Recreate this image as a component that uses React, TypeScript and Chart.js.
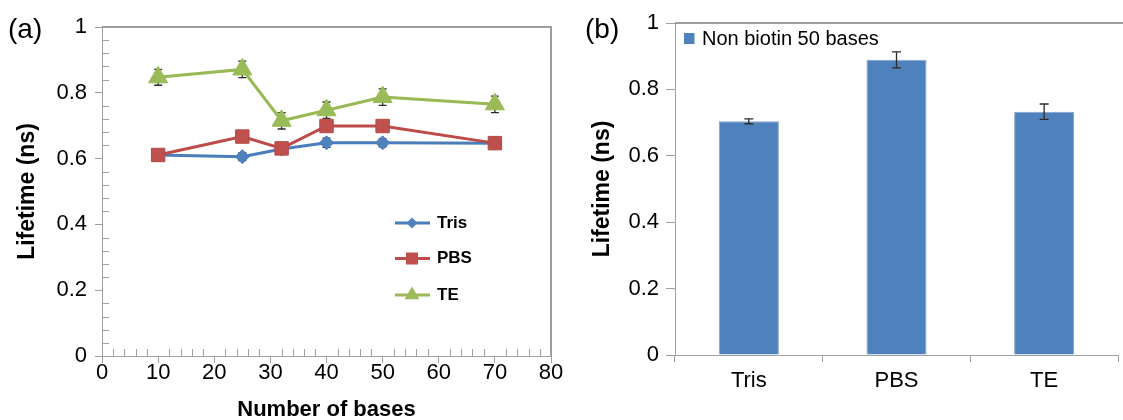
import React, { useEffect, useRef } from 'react';
import { Chart, registerables } from 'chart.js';

Chart.register(...registerables);

const FONT = "'Liberation Sans', Arial, Helvetica, sans-serif";

// ---- Data: panel (a) ----
const baseCounts = [10, 25, 32, 40, 50, 70];
const trisValues = [0.611, 0.606, 0.629, 0.648, 0.648, 0.647];
const trisErrors = [0.014, 0.012, 0.014, 0.014, 0.012, 0.014];
const pbsValues = [0.611, 0.667, 0.631, 0.699, 0.699, 0.647];
const pbsErrors = [0.015, 0.012, 0.012, 0.016, 0.012, 0.014];
const teValues = [0.847, 0.871, 0.715, 0.747, 0.787, 0.765];
const teErrors = [0.024, 0.025, 0.025, 0.025, 0.025, 0.025];
const baseTicks = [0, 10, 20, 30, 40, 50, 60, 70, 80];
const lifetimeTicks = [0, 0.2, 0.4, 0.6, 0.8, 1];

// ---- Data: panel (b) ----
const bufferLabels = ['Tris', 'PBS', 'TE'];
const nonBiotinValues = [0.704, 0.889, 0.733];
const nonBiotinErrors = [0.0075, 0.024, 0.023];

const AXIS = '#a0a0a0';
const FRAME = '#7f7f7f';

function drawErrorBars(chart: any, errs: number[][], cap: number) {
  const ctx = chart.ctx;
  const ys = chart.scales.y;
  ctx.save();
  ctx.strokeStyle = '#2b2b2b';
  ctx.lineWidth = 1.3;
  chart.data.datasets.forEach((ds: any, di: number) => {
    const meta = chart.getDatasetMeta(di);
    const e = errs[di];
    if (!e) return;
    meta.data.forEach((pt: any, i: number) => {
      const v = ds.data[i];
      const val = typeof v === 'number' ? v : v.y;
      const x = pt.x;
      const y1 = ys.getPixelForValue(val + e[i]);
      const y2 = ys.getPixelForValue(val - e[i]);
      ctx.beginPath();
      ctx.moveTo(x, y1);
      ctx.lineTo(x, y2);
      ctx.moveTo(x - cap, y1);
      ctx.lineTo(x + cap, y1);
      ctx.moveTo(x - cap, y2);
      ctx.lineTo(x + cap, y2);
      ctx.stroke();
    });
  });
  ctx.restore();
}

function LineChart() {
  const ref = useRef<HTMLCanvasElement>(null);
  useEffect(() => {
    const canvas = ref.current!;
    const errs = [trisErrors, pbsErrors, teErrors];
    const plugin = {
      id: 'panelA',
      beforeDatasetsDraw(chart: any) {
        drawErrorBars(chart, errs, 4);
      },
      afterDraw(chart: any) {
        const ctx = chart.ctx;
        const { left, right, top, bottom } = chart.chartArea;
        const xs = chart.scales.x;
        const ys = chart.scales.y;
        ctx.save();
        // frame top & right
        ctx.strokeStyle = FRAME;
        ctx.lineWidth = 1.5;
        ctx.beginPath();
        ctx.moveTo(left, top);
        ctx.lineTo(right, top);
        ctx.lineTo(right, bottom);
        ctx.stroke();
        // minor ticks
        ctx.strokeStyle = AXIS;
        ctx.lineWidth = 1;
        ctx.beginPath();
        for (let k = 1; k < 25; k++) {
          if (k % 5 === 0) continue;
          const y = Math.round(ys.getPixelForValue(k * 0.04)) + 0.5;
          ctx.moveTo(left, y);
          ctx.lineTo(left + 7, y);
        }
        for (let k = 1; k < 40; k++) {
          if (k % 5 === 0) continue;
          const x = Math.round(xs.getPixelForValue(k * 2)) + 0.5;
          ctx.moveTo(x, bottom);
          ctx.lineTo(x, bottom - 7);
        }
        ctx.stroke();
        // legend
        const lx0 = 395, lx1 = 430, mx = 412;
        chart.data.datasets.forEach((ds: any, i: number) => {
          const y = [223, 258.5, 295][i];
          ctx.strokeStyle = ds.borderColor;
          ctx.lineWidth = 3;
          ctx.beginPath();
          ctx.moveTo(lx0, y);
          ctx.lineTo(lx1, y);
          ctx.stroke();
          ctx.fillStyle = ds.pointBackgroundColor;
          ctx.beginPath();
          if (ds.pointStyle === 'rectRot') {
            const r = 5.5;
            ctx.moveTo(mx, y - r);
            ctx.lineTo(mx + r, y);
            ctx.lineTo(mx, y + r);
            ctx.lineTo(mx - r, y);
          } else if (ds.pointStyle === 'rect') {
            ctx.rect(mx - 6, y - 6, 12, 12);
          } else {
            const r = 8.5;
            ctx.moveTo(mx, y - r);
            ctx.lineTo(mx + r * 0.866, y + r * 0.5);
            ctx.lineTo(mx - r * 0.866, y + r * 0.5);
          }
          ctx.closePath();
          ctx.fill();
          ctx.fillStyle = '#000';
          ctx.font = `bold 17px ${FONT}`;
          ctx.textAlign = 'left';
          ctx.textBaseline = 'middle';
          ctx.fillText(ds.label, 437, y);
        });
        // panel label
        ctx.fillStyle = '#000';
        ctx.font = `28px ${FONT}`;
        ctx.textAlign = 'left';
        ctx.textBaseline = 'middle';
        ctx.fillText('(a)', 8, 30);
        ctx.restore();
      },
    };
    const mk = (vals: number[]) => baseCounts.map((x, i) => ({ x, y: vals[i] }));
    const chart = new Chart(canvas, {
      type: 'line',
      data: {
        datasets: [
          {
            label: 'Tris', data: mk(trisValues), borderColor: '#4A7EBB', borderWidth: 3,
            pointStyle: 'rectRot', pointRadius: 7, pointBackgroundColor: '#4F81BD',
            pointBorderColor: '#4A7EBB', pointBorderWidth: 1, order: 3,
          },
          {
            label: 'PBS', data: mk(pbsValues), borderColor: '#BE4B48', borderWidth: 3,
            pointStyle: 'rect', pointRadius: 9.5, pointBackgroundColor: '#C0504D',
            pointBorderColor: '#B44A47', pointBorderWidth: 1, order: 2,
          },
          {
            label: 'TE', data: mk(teValues), borderColor: '#98B954', borderWidth: 3,
            pointStyle: 'triangle', pointRadius: 11, pointBackgroundColor: '#9BBB59',
            pointBorderColor: '#98B954', pointBorderWidth: 1, order: 1,
          },
        ] as any,
      },
      options: {
        animation: false,
        responsive: false,
        events: [],
        layout: { padding: { left: 0, top: 27, right: 24, bottom: 0 } },
        plugins: { legend: { display: false }, tooltip: { enabled: false } },
        scales: {
          x: {
            type: 'linear', min: 0, max: 80,
            afterBuildTicks: (s: any) => { s.ticks = baseTicks.map((v) => ({ value: v })); },
            afterFit: (s: any) => { s.height = 64; },
            ticks: {
              color: '#000', font: { family: FONT, size: 22, lineHeight: 1 }, padding: -1,
              maxRotation: 0, autoSkip: false, callback: (v: any) => String(v),
            },
            grid: { display: true, drawOnChartArea: false, drawTicks: true, tickLength: 7, color: AXIS },
            border: { display: true, color: AXIS, width: 1 },
            title: {
              display: true, text: 'Number of bases', color: '#000',
              font: { family: FONT, size: 22, weight: 'bold', lineHeight: 1 }, padding: { top: 0, bottom: -1 },
            },
          },
          y: {
            type: 'linear', min: 0, max: 1,
            afterBuildTicks: (s: any) => { s.ticks = lifetimeTicks.map((v) => ({ value: v })); },
            afterFit: (s: any) => { s.width = 102; },
            ticks: {
              color: '#000', font: { family: FONT, size: 22, lineHeight: 1 }, padding: 8,
              callback: (v: any) => String(v),
            },
            grid: { display: true, drawOnChartArea: false, drawTicks: true, tickLength: 7, color: AXIS },
            border: { display: true, color: AXIS, width: 1 },
            title: {
              display: true, text: 'Lifetime (ns)', color: '#000',
              font: { family: FONT, size: 23, weight: 'bold', lineHeight: 1 }, padding: { top: 16, bottom: 0 },
            },
          },
        },
      } as any,
      plugins: [plugin],
    });
    return () => chart.destroy();
  }, []);
  return <canvas ref={ref} width={575} height={420} style={{ position: 'absolute', left: 0, top: 0 }} />;
}

function BarChart() {
  const ref = useRef<HTMLCanvasElement>(null);
  useEffect(() => {
    const canvas = ref.current!;
    const plugin = {
      id: 'panelB',
      afterDatasetsDraw(chart: any) {
        drawErrorBars(chart, [nonBiotinErrors], 4.5);
      },
      afterDraw(chart: any) {
        const ctx = chart.ctx;
        const { left, top } = chart.chartArea;
        ctx.save();
        ctx.strokeStyle = FRAME;
        ctx.lineWidth = 1.5;
        ctx.beginPath();
        ctx.moveTo(left, top);
        ctx.lineTo(chart.width, top);
        ctx.stroke();
        // legend
        const ds = chart.data.datasets[0];
        ctx.fillStyle = ds.backgroundColor;
        ctx.fillRect(109, 33, 10.5, 11);
        ctx.fillStyle = '#000';
        ctx.font = `20px ${FONT}`;
        ctx.textAlign = 'left';
        ctx.textBaseline = 'middle';
        ctx.fillText(ds.label, 127, 39);
        // panel label
        ctx.font = `28px ${FONT}`;
        ctx.fillText('(b)', 10, 30);
        ctx.restore();
      },
    };
    const chart = new Chart(canvas, {
      type: 'bar',
      data: {
        labels: bufferLabels,
        datasets: [
          {
            label: 'Non biotin 50 bases', data: nonBiotinValues, backgroundColor: '#4F81BD',
            borderColor: '#7FA3CF', borderWidth: 1, barPercentage: 0.407, categoryPercentage: 1,
          },
        ],
      },
      options: {
        animation: false,
        responsive: false,
        events: [],
        layout: { padding: { left: 0, top: 23, right: 5, bottom: 0 } },
        plugins: { legend: { display: false }, tooltip: { enabled: false } },
        scales: {
          x: {
            type: 'category', offset: true,
            afterFit: (s: any) => { s.height = 65; },
            ticks: { color: '#000', font: { family: FONT, size: 22, lineHeight: 1 }, padding: 8, maxRotation: 0 },
            grid: { display: true, offset: true, drawOnChartArea: false, drawTicks: true, tickLength: 7, color: AXIS },
            border: { display: true, color: AXIS, width: 1 },
          },
          y: {
            type: 'linear', min: 0, max: 1,
            afterBuildTicks: (s: any) => { s.ticks = lifetimeTicks.map((v) => ({ value: v })); },
            afterFit: (s: any) => { s.width = 100; },
            ticks: {
              color: '#000', font: { family: FONT, size: 22, lineHeight: 1 }, padding: 7,
              callback: (v: any) => String(v),
            },
            grid: { display: true, drawOnChartArea: false, drawTicks: true, tickLength: 9, color: AXIS },
            border: { display: true, color: AXIS, width: 1 },
            title: {
              display: true, text: 'Lifetime (ns)', color: '#000',
              font: { family: FONT, size: 23, weight: 'bold', lineHeight: 1 }, padding: { top: 16.5, bottom: 0 },
            },
          },
        },
      } as any,
      plugins: [plugin],
    });
    return () => chart.destroy();
  }, []);
  return <canvas ref={ref} width={548} height={420} style={{ position: 'absolute', left: 575, top: 0 }} />;
}

export default function App() {
  return (
    <div style={{ position: 'fixed', left: 0, top: 0, width: 1123, height: 420, background: '#fff', overflow: 'hidden' }}>
      <LineChart />
      <BarChart />
    </div>
  );
}
